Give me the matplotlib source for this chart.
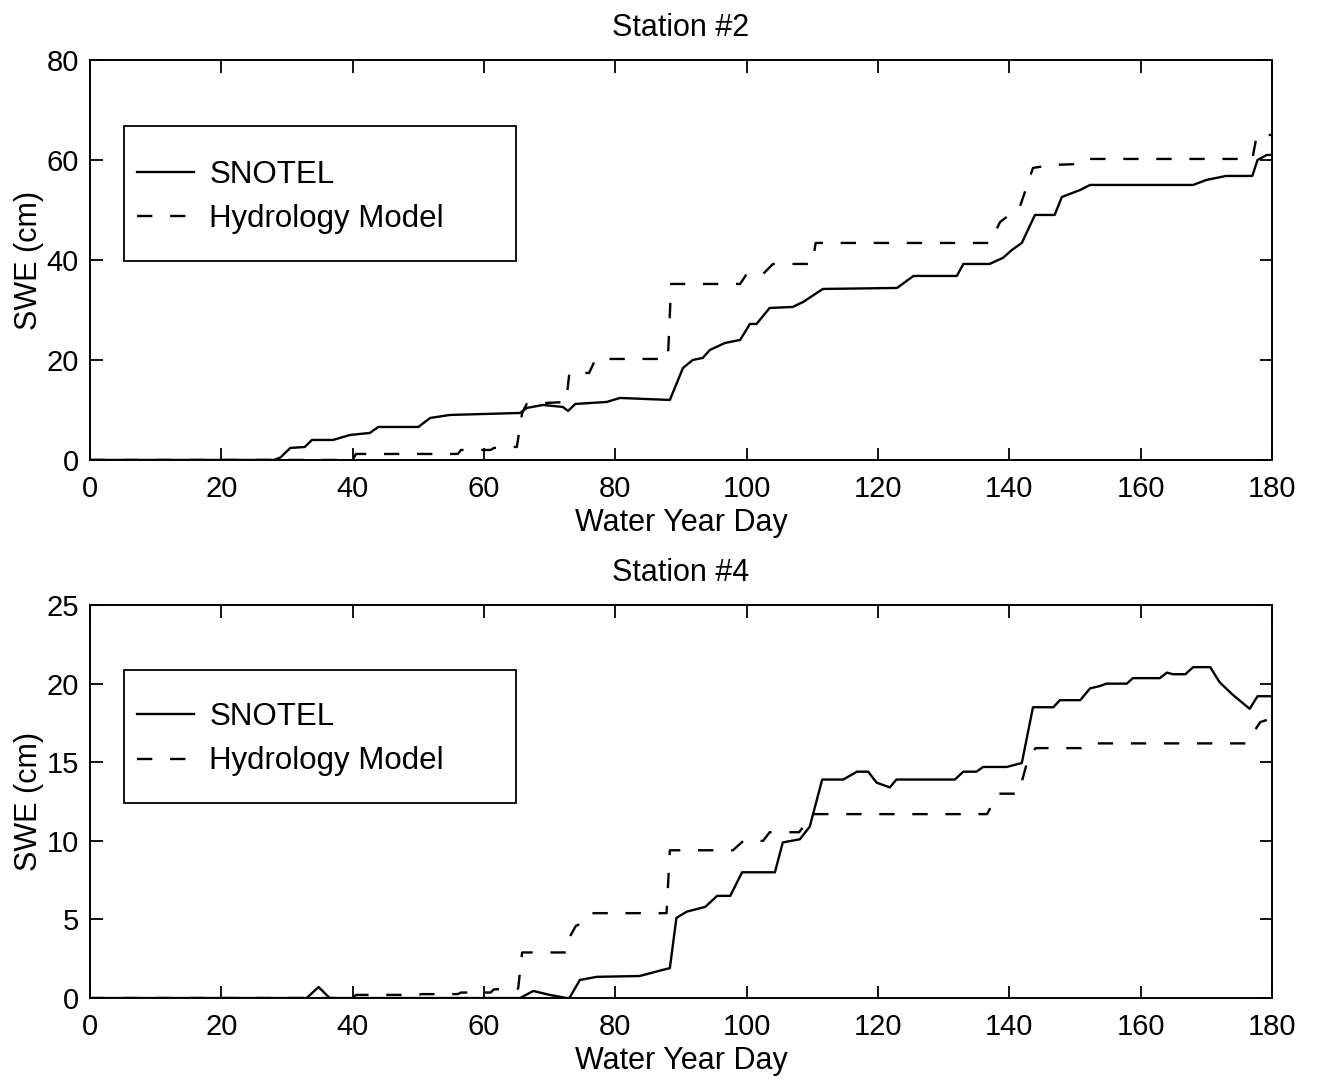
import matplotlib.pyplot as plt
from matplotlib.patches import Rectangle

plt.rcParams['font.family'] = ['Liberation Sans', 'DejaVu Sans']

# Station #2 data (water year day, SWE in cm)
snotel2_day = [0, 28, 29, 30.5, 32.7, 33.8, 37, 39.6, 42.6, 43.9, 50, 51.8, 54.8, 65.5, 66.5,
               69, 72, 72.8, 73.9, 78.7, 80.7, 88.3, 90.3, 91.8, 93.3, 94.4, 96.7, 99, 100.5,
               101.5, 103.5, 107, 108.6, 111.6, 122.9, 125.4, 132, 133, 137, 139, 140.4, 141.9,
               143.9, 146.9, 148, 150.8, 152.3, 168, 170, 173, 177, 177.8, 179.2, 180]
snotel2_swe = [0, 0, 0.5, 2.4, 2.6, 4, 4, 5, 5.4, 6.6, 6.6, 8.4, 9, 9.4, 10.4,
               11, 10.6, 9.8, 11.2, 11.6, 12.4, 12, 18.4, 20, 20.4, 22, 23.4, 24, 27.2,
               27.2, 30.4, 30.6, 31.6, 34.2, 34.4, 36.8, 36.8, 39.2, 39.2, 40.4, 42, 43.4,
               49, 49, 52.6, 54, 55, 55, 56, 56.8, 56.8, 60, 61, 61]
model2_day = [0, 40, 40.5, 56, 56.5, 61, 61.5, 64.5, 65.0, 65.8, 66.5, 72.5, 73, 76, 77,
              88, 88.5, 99, 100, 102.5, 104, 110, 110.5, 137, 138.6, 141.6, 143.6, 146.5,
              151, 152, 177, 177.7, 180]
model2_swe = [0, 0, 1.2, 1.2, 2.0, 2.0, 2.4, 2.6, 2.6, 9.4, 11.2, 11.6, 17.4, 17.4, 20.2,
              20.2, 35.2, 35.2, 37.2, 37.2, 39.2, 39.2, 43.4, 43.4, 47.6, 50.6, 58.4, 59,
              59.2, 60.2, 60.2, 65, 65]

# Station #4 data
snotel4_day = [0, 33, 34.8, 36.5, 65.5, 67.5, 69, 70, 72.6, 73, 74.6, 77.2, 83.7, 87.3,
               88.3, 89.3, 90.9, 93.7, 95.5, 97.5, 99.3, 104.3, 105.5, 108.1, 109.6, 111.5,
               114.7, 116.8, 118.5, 119.8, 121.8, 122.8, 131.7, 133, 135, 136, 139.6, 141.9,
               143.6, 146.7, 147.7, 150.8, 152.3, 153.8, 154.8, 157.9, 158.8, 162.9, 164,
               164.9, 166.8, 168, 170.6, 172, 174, 176.6, 177.8, 180]
snotel4_swe = [0, 0, 0.7, 0, 0, 0.45, 0.3, 0.2, 0, 0, 1.15, 1.35, 1.4, 1.8,
               1.9, 5.1, 5.5, 5.8, 6.5, 6.5, 8.0, 8.0, 9.9, 10.1, 10.9, 13.9,
               13.9, 14.4, 14.4, 13.7, 13.4, 13.9, 13.9, 14.4, 14.4, 14.7, 14.7, 14.95,
               18.5, 18.5, 18.95, 18.95, 19.7, 19.85, 20.0, 20.0, 20.35, 20.35, 20.7,
               20.6, 20.6, 21.05, 21.05, 20.1, 19.3, 18.4, 19.2, 19.2]
model4_day = [0, 40, 40.5, 50, 50.5, 56, 56.5, 61, 61.5, 64.5, 65.2, 65.8, 72.6, 73.2, 74,
              75, 76.5, 87.8, 88.3, 97.9, 99.5, 102.5, 103.5, 108, 110, 136.6, 138.3, 141.4,
              142.9, 144, 151, 152, 176, 177.1, 178.2, 180]
model4_swe = [0, 0, 0.2, 0.2, 0.25, 0.25, 0.35, 0.35, 0.55, 0.6, 0.6, 2.9, 2.9, 4.0, 4.6,
              4.75, 5.4, 5.4, 9.4, 9.4, 10.0, 10.0, 10.55, 10.55, 11.7, 11.7, 13.0, 13.0,
              15.3, 15.9, 15.9, 16.2, 16.2, 16.85, 17.55, 17.8]

panels = [
    ('Station #2', snotel2_day, snotel2_swe, model2_day, model2_swe, 80, 20,
     [0.0683, 0.5749, 0.8968, 0.3697]),
    ('Station #4', snotel4_day, snotel4_swe, model4_day, model4_swe, 25, 5,
     [0.0683, 0.0776, 0.8968, 0.3632]),
]

fig = plt.figure(figsize=(13.18, 10.82), dpi=100)

for title, sd, sv, md, mv, ymax, ystep, pos in panels:
    ax = fig.add_axes(pos)
    ax.plot(sd, sv, color='black', lw=1.7, label='SNOTEL')
    ax.plot(md, mv, color='black', lw=1.7, ls=(0, (6.5, 7.5)), label='Hydrology Model')
    ax.set_xlim(0, 180)
    ax.set_ylim(0, ymax)
    ax.set_xticks(range(0, 181, 20))
    ax.set_yticks(range(0, ymax + 1, ystep))
    ax.tick_params(direction='in', length=9, width=1.3, top=True, right=True,
                   labelsize=21, pad=8)
    ax.tick_params(axis='x', pad=11)
    for s in ax.spines.values():
        s.set_linewidth(1.4)
    ax.set_xlabel('Water Year Day', fontsize=22, labelpad=3.5)
    ax.set_ylabel('SWE (cm)', fontsize=22, labelpad=2)
    ax.set_title(title, fontsize=22, pad=17)

    # legend box like the original
    ax.add_patch(Rectangle((0.029, 0.497), 0.331, 0.338, transform=ax.transAxes,
                           facecolor='white', edgecolor='black', lw=1.3, zorder=4))
    leg = ax.legend(loc='center left', bbox_to_anchor=(0.04, 0.658), frameon=False,
                    fontsize=22.5, handlelength=1.8, handletextpad=0.5, labelspacing=0.45,
                    borderpad=0, borderaxespad=0)
    leg.set_zorder(5)

fig.savefig('out.png', dpi=100)
